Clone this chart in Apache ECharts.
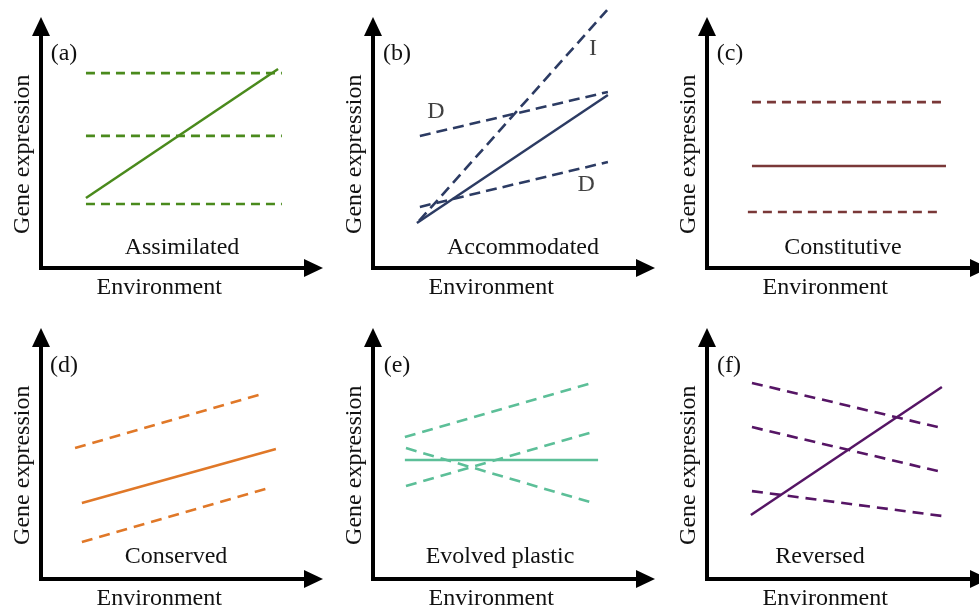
<!DOCTYPE html>
<html><head><meta charset="utf-8">
<script src="https://cdn.jsdelivr.net/npm/echarts@6/dist/echarts.min.js"></script>
<style>html,body{margin:0;padding:0;background:#fff}#c{width:979px;height:610px}</style>
</head><body><div id="c"></div>
<script>
// ---- text ----
const panelLetters = ['(a)', '(b)', '(c)', '(d)', '(e)', '(f)'];
const panelNames = ['Assimilated', 'Accommodated', 'Constitutive', 'Conserved', 'Evolved plastic', 'Reversed'];
const xAxisName = 'Environment';
const yAxisName = 'Gene expression';
const panelColors = ['#4a8a1c', '#2c3b63', '#7a3838', '#e07828', '#5cbf98', '#561565'];

// ---- data (axis units 0-100) ----
const aSolid = [[16.5, 29.0], [87.0, 82.4]];
const aDashed = [[[16.5, 80.7], [88.4, 80.7]], [[16.5, 54.7], [88.4, 54.7]], [[16.5, 26.5], [88.4, 26.5]]];
const bSolid = [[16.1, 18.6], [86.2, 71.6]];
const bDashed = [[[17.2, 54.7], [86.2, 72.9]], [[17.2, 25.3], [86.2, 43.9]], [[16.9, 19.5], [85.9, 106.8]]];
const bLabels = [['D', 23.1, 64.6], ['I', 80.7, 90.7], ['D', 78.2, 34.4]];
const cSolid = [[16.5, 42.2], [87.7, 42.2]];
const cDashed = [[[16.5, 68.7], [87.7, 68.7]], [[15.0, 23.2], [86.2, 23.2]]];
const dSolid = [[15.0, 31.5], [86.2, 53.8]];
const dDashed = [[[12.5, 54.2], [81.1, 76.6]], [[15.0, 15.3], [83.7, 37.7]]];
const eSolid = [[11.7, 49.3], [82.6, 49.3]];
const eDashed = [[[11.7, 58.8], [80.4, 81.2]], [[12.1, 38.5], [80.7, 60.9]], [[12.1, 54.2], [80.7, 31.5]]];
const fSolid = [[16.1, 26.5], [86.2, 79.5]];
const fDashed = [[[16.5, 81.2], [86.2, 62.5]], [[16.5, 62.9], [86.2, 44.3]], [[16.5, 36.4], [86.2, 26.1]]];

const solids = [aSolid, bSolid, cSolid, dSolid, eSolid, fSolid];
const dashedSets = [aDashed, bDashed, cDashed, dDashed, eDashed, fDashed];
const dashPatterns = [[9, 6], [11, 6], [9, 6], [11, 7], [11, 7], [11, 7]];

// ---- layout ----
const FONT = 'Liberation Serif';
const colLeft = [41, 373, 707];
const rowTop = [26.5, 337.5];
const gridW = 272.5, gridH = 241.5;
const letterPos = [[64, 54], [397, 54], [730, 54], [64, 366], [397, 366], [729, 366]];
const namePos = [[182, 248], [523, 248], [843, 248], [176, 557], [500, 557], [820, 557]];

const grids = [], xAxes = [], yAxes = [], series = [], graphics = [];
for (let i = 0; i < 6; i++) {
  const col = i % 3, row = Math.floor(i / 3);
  grids.push({ left: colLeft[col], top: rowTop[row], width: gridW, height: gridH, containLabel: false, outerBoundsMode: 'none' });
  const axisLine = {
    show: true, onZero: false,
    symbol: ['none', 'triangle'], symbolSize: [18, 19],
    lineStyle: { color: '#000', width: 4, cap: 'square' }
  };
  xAxes.push({
    type: 'value', gridIndex: i, min: 0, max: 100,
    axisLine: axisLine, axisTick: { show: false }, axisLabel: { show: false }, splitLine: { show: false },
    name: xAxisName, nameLocation: 'middle', nameGap: 8,
    nameTextStyle: { fontFamily: FONT, fontSize: 24, color: '#111', padding: [0, 36, 0, 0] }
  });
  yAxes.push({
    type: 'value', gridIndex: i, min: 0, max: 100,
    axisLine: axisLine, axisTick: { show: false }, axisLabel: { show: false }, splitLine: { show: false },
    name: yAxisName, nameLocation: 'middle', nameGap: 6,
    nameTextStyle: { fontFamily: FONT, fontSize: 24, color: '#111', padding: [0, 14, 0, 0] }
  });
  const color = panelColors[i];
  dashedSets[i].forEach(function (seg) {
    series.push({
      type: 'line', xAxisIndex: i, yAxisIndex: i, data: seg, symbol: 'none', clip: false,
      silent: true, animation: false,
      lineStyle: { color: color, width: 2.6, type: dashPatterns[i] }
    });
  });
  series.push({
    type: 'line', xAxisIndex: i, yAxisIndex: i, data: solids[i], symbol: 'none', clip: false,
    silent: true, animation: false,
    lineStyle: { color: color, width: 2.5, type: 'solid' }
  });
  graphics.push({
    type: 'text', x: letterPos[i][0], y: letterPos[i][1],
    style: { text: panelLetters[i], font: '24px "' + FONT + '"', fill: '#111', textAlign: 'center', textVerticalAlign: 'middle' }
  });
  graphics.push({
    type: 'text', x: namePos[i][0], y: namePos[i][1],
    style: { text: panelNames[i], font: '24px "' + FONT + '"', fill: '#111', textAlign: 'center', textVerticalAlign: 'middle' }
  });
}
series.push({
  type: 'scatter', xAxisIndex: 1, yAxisIndex: 1, symbolSize: 1, silent: true, animation: false,
  itemStyle: { color: 'rgba(0,0,0,0)' },
  data: bLabels.map(function (l) { return { name: l[0], value: [l[1], l[2]] }; }),
  label: { show: true, position: 'inside', formatter: '{b}', fontFamily: FONT, fontSize: 24, color: '#111' }
});

const chart = echarts.init(document.getElementById('c'), null, { renderer: 'canvas' });
chart.setOption({
  backgroundColor: '#fff',
  animation: false,
  grid: grids, xAxis: xAxes, yAxis: yAxes, series: series,
  graphic: graphics
});
</script>
</body></html>
